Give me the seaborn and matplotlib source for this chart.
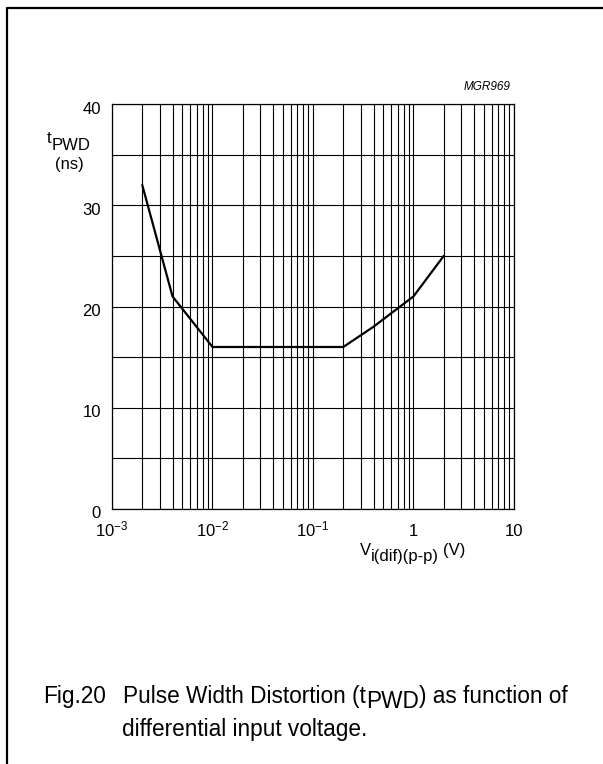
import matplotlib
matplotlib.use("Agg")
import matplotlib.pyplot as plt
from matplotlib.lines import Line2D
from matplotlib.transforms import ScaledTranslation
from matplotlib.ticker import LogLocator, NullFormatter, MultipleLocator
import seaborn as sns
import pandas as pd

# curve
v_dif = [0.002, 0.004, 0.01, 0.2, 0.4, 1.0, 2.0]
t_pwd = [32, 21, 16, 16, 18, 21, 25]

x_ticks = [1e-3, 1e-2, 1e-1, 1, 10]
x_ticklabels = ["$10^{-3}$", "$10^{-2}$", "$10^{-1}$", "1", "10"]
y_ticks = [0, 10, 20, 30, 40]

W, H = 603, 764

sns.set_style("white")
plt.rcParams["font.family"] = ["Liberation Sans", "DejaVu Sans"]
plt.rcParams["text.color"] = "black"
plt.rcParams["mathtext.fontset"] = "custom"
plt.rcParams["mathtext.rm"] = "Liberation Sans"
plt.rcParams["mathtext.it"] = "Liberation Sans:italic"
plt.rcParams["mathtext.default"] = "rm"

df = pd.DataFrame({"v": v_dif, "t": t_pwd})

fig = plt.figure(figsize=(W / 100, H / 100), dpi=100)
ax = fig.add_axes([112 / W, 1 - 509 / H, 402 / W, 405 / H])

sns.lineplot(data=df, x="v", y="t", ax=ax, color="black", linewidth=1.6, zorder=5)

ax.set_xscale("log")
ax.set_xlim(1e-3, 10)
ax.set_ylim(0, 40)
ax.set_xticks(x_ticks)
ax.set_xticklabels(x_ticklabels)
ax.xaxis.set_minor_locator(LogLocator(base=10, subs=range(2, 10)))
ax.xaxis.set_minor_formatter(NullFormatter())
ax.set_yticks(y_ticks)
ax.yaxis.set_minor_locator(MultipleLocator(5))

ax.grid(which="both", color="black", linewidth=0.8)
ax.tick_params(which="both", length=0, labelsize=12, colors="black")
ax.tick_params(axis="y", pad=8)
ax.tick_params(axis="x", pad=19.5)
for lbl in ax.get_xticklabels():
    lbl.set_va("baseline")
for lbl in ax.get_yticklabels():
    lbl.set_transform(lbl.get_transform() + ScaledTranslation(0, -3.5 / 100, fig.dpi_scale_trans))
for s in ax.spines.values():
    s.set_color("black")
    s.set_linewidth(0.9)
ax.set_xlabel("")
ax.set_ylabel("")

renderer = fig.canvas.get_renderer()


def put_pieces(x_px, base_px, pieces, **kw):
    # lay text pieces left to right; each piece: (text, size, drop in px, gap before in px)
    x = x_px
    for txt, size, drop, gap in pieces:
        x += gap
        t = fig.text(x / W, 1 - (base_px + drop) / H, txt, fontsize=size,
                     ha="left", va="baseline", **kw)
        x += t.get_window_extent(renderer).width


# axis titles
put_pieces(47, 143, [("t", 12, 0, 0), ("PWD", 12, 7, 0)])
put_pieces(55, 169, [("(ns)", 12, 0, 0)])
put_pieces(360, 555, [("V", 12, 0, 0), ("i(dif)(p-p)", 12, 6, 0), ("(V)", 12, 0, 4)])
fig.text(511 / W, 1 - 90 / H, "MGR969", fontsize=8.5, style="italic", ha="right", va="baseline")

# caption
cap = 16.3
put_pieces(43, 703, [("Fig.20", cap, 0, 0)])
put_pieces(123, 703, [("Pulse Width Distortion (t", cap, 0, 0), ("PWD", cap, 5, 0),
                      (") as function of", cap, 0, 0)])
put_pieces(122, 736, [("differential input voltage.", cap, 0, 0)])

# frame (top and left edges only)
fig.add_artist(Line2D([7 / W, 7 / W], [0, 1 - 8 / H], transform=fig.transFigure,
                      color="black", linewidth=1.6))
fig.add_artist(Line2D([7 / W, 1], [1 - 8 / H, 1 - 8 / H], transform=fig.transFigure,
                      color="black", linewidth=1.6))

fig.savefig("out.png", dpi=100, facecolor="white")
